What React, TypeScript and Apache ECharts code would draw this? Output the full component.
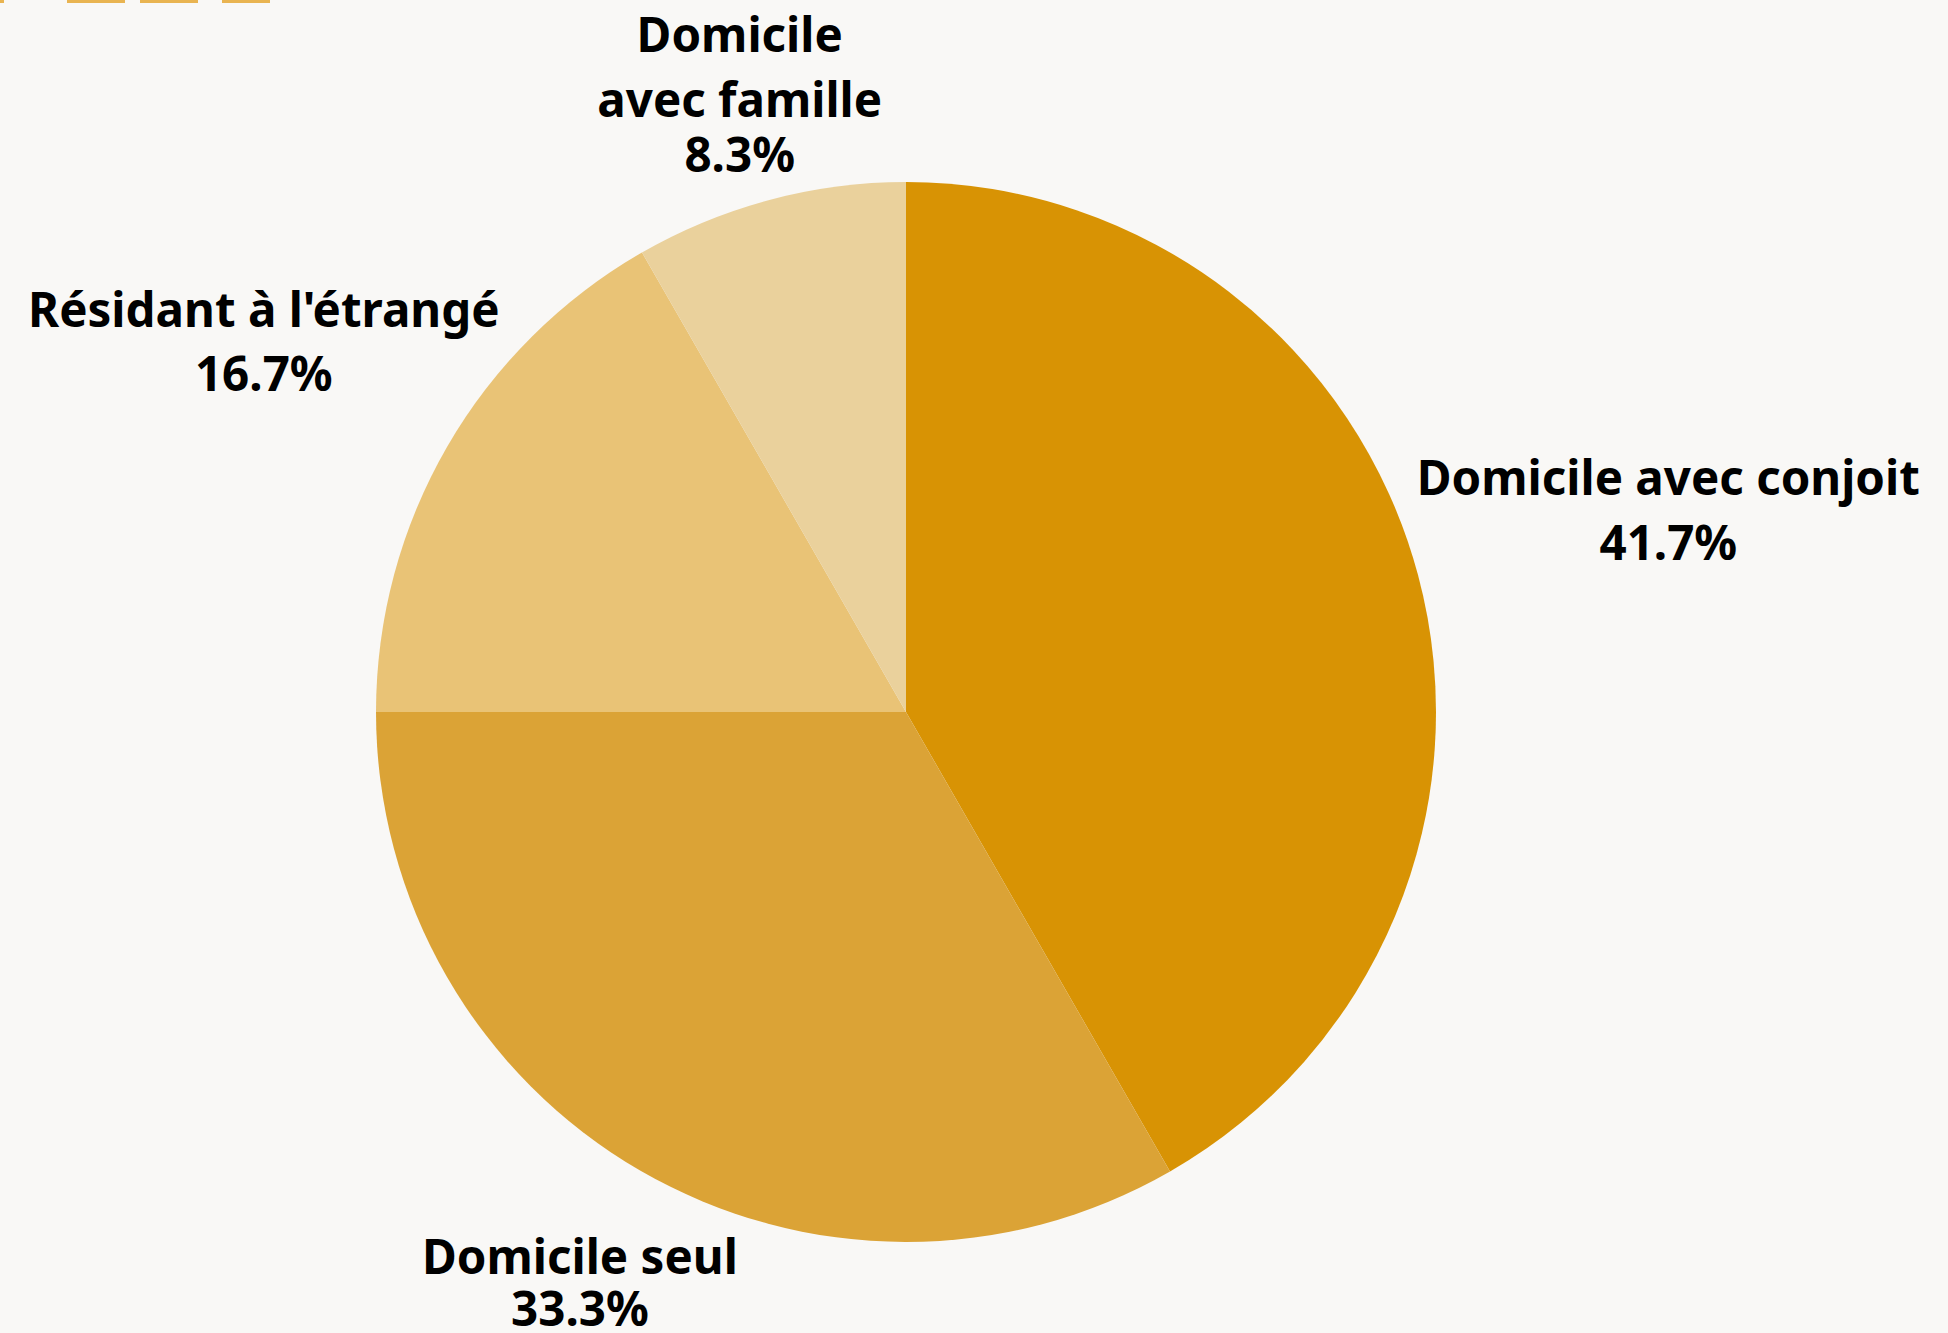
import React, { useEffect, useRef } from "react";
import * as echarts from "echarts";

const categories = [
  "Domicile avec conjoit",
  "Domicile seul",
  "Résidant à l'étrangé",
  "Domicile\navec famille",
];
const values = [41.7, 33.3, 16.7, 8.3];
const colors = ["#d89304", "#dba336", "#e9c376", "#ead19c"];
const legendMarks = [0, 1, 2, 3];

// layout constants
const CENTER = [906, 712];
const RADIUS = 530;
const LABEL_GAP = [259, 121, 212, 115];
const PCT_LINE_HEIGHT = [64, 39, 64, 45];

export default function App() {
  const ref = useRef<HTMLDivElement>(null);
  useEffect(() => {
    if (!ref.current) return;
    const chart = echarts.init(ref.current, null, { renderer: "svg" });
    const total = values.reduce((a, b) => a + b, 0);
    const cum: number[] = [];
    let acc = 0;
    values.forEach((v) => {
      cum.push(acc);
      acc += v;
    });
    const legendX = [[-54, 4], [67, 125], [140, 198], [222, 270]];
    const font = {
      fontFamily: "Noto Sans",
      fontWeight: "bold",
      fontSize: 47.5,
      color: "#000",
      align: "center",
    };
    chart.setOption({
      animation: false,
      backgroundColor: "#f9f8f6",
      graphic: legendMarks.map((i) => ({
        type: "rect",
        shape: { x: legendX[i][0], y: -20, width: legendX[i][1] - legendX[i][0], height: 23 },
        style: { fill: "#e9b451" },
      })),
      series: [
        {
          type: "pie",
          center: CENTER,
          radius: RADIUS,
          startAngle: 90,
          clockwise: true,
          avoidLabelOverlap: false,
          labelLine: { show: false },
          itemStyle: { borderWidth: 0 },
          label: {
            show: true,
            position: "outside",
            formatter: (p: any) => `{n|${p.name}}\n{v|${p.value.toFixed(1)}%}`,
          },
          labelLayout: (params: any) => {
            const i = params.dataIndex;
            const f = (cum[i] + values[i] / 2) / total;
            const th = f * Math.PI * 2;
            const dx = Math.sin(th);
            const dy = -Math.cos(th);
            const d = RADIUS + LABEL_GAP[i];
            return {
              x: CENTER[0] + dx * d,
              y: CENTER[1] + dy * d,
              align: "center",
              verticalAlign: "middle",
            };
          },
          data: categories.map((name, i) => ({
            name,
            value: values[i],
            itemStyle: { color: colors[i] },
            label: {
              rich: {
                n: { ...font, lineHeight: 65 },
                v: { ...font, lineHeight: PCT_LINE_HEIGHT[i] },
              },
            },
          })),
        },
      ],
    });
    return () => chart.dispose();
  }, []);
  return (
    <div
      ref={ref}
      style={{ position: "absolute", left: 0, top: 0, width: 1948, height: 1333 }}
    />
  );
}
